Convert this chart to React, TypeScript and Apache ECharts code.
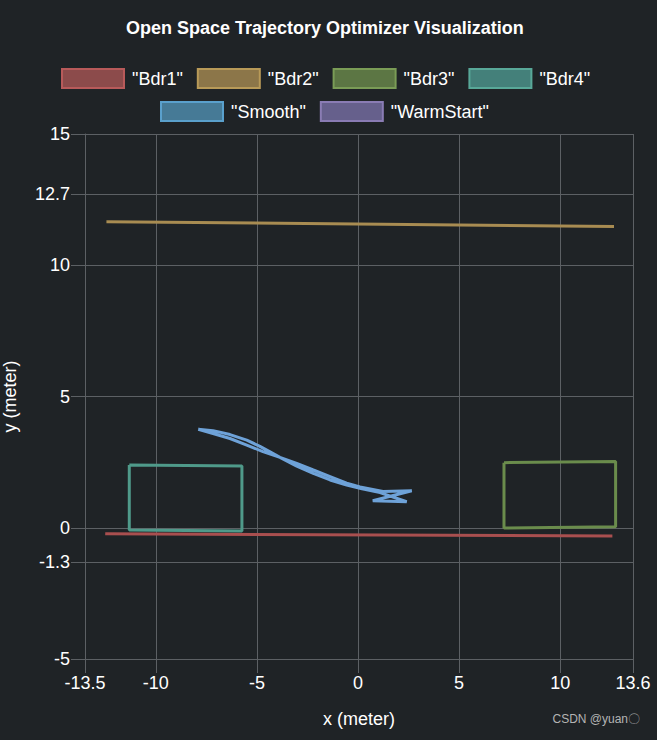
import { useEffect, useRef } from "react";
import * as echarts from "echarts";

const seriesNames = ['"Bdr1"', '"Bdr2"', '"Bdr3"', '"Bdr4"', '"Smooth"', '"WarmStart"'];
const legendRow1 = ['"Bdr1"', '"Bdr2"', '"Bdr3"', '"Bdr4"'];
const legendRow2 = ['"Smooth"', '"WarmStart"'];

const bdr1 = [[-12.5, -0.23], [12.58, -0.31]];
const bdr2 = [[-12.44, 11.66], [12.66, 11.48]];
const bdr3 = [[7.22, 2.48], [12.74, 2.52], [12.74, 0.04], [7.22, -0.01], [7.22, 2.48]];
const bdr4 = [[-11.31, 2.39], [-5.74, 2.35], [-5.74, -0.12], [-11.31, -0.09], [-11.31, 2.39]];
const smooth = [
  [-7.9, 3.75], [-7.17, 3.7], [-6.33, 3.55], [-5.5, 3.34], [-4.85, 3.1], [-4.35, 2.89],
  [-3.86, 2.68], [-3.03, 2.35], [-2.21, 2.07], [-1.38, 1.82], [-0.56, 1.63], [0.2, 1.48],
  [1.09, 1.34], [2.41, 0.99], [0.73, 1.03], [2.66, 1.41], [1.24, 1.38], [0.1, 1.55],
  [-0.56, 1.7], [-1.38, 1.95], [-2.21, 2.2], [-3.03, 2.45], [-3.86, 2.68], [-4.7, 2.9],
  [-5.5, 3.15], [-6.33, 3.4], [-7.17, 3.59], [-7.9, 3.75],
];
const warmStart: number[][] = [];

const xTicks = [-13.5, -10, -5, 0, 5, 10, 13.6];
const yTicks = [-5, -1.3, 0, 5, 10, 12.7, 15];

const lineColors = ["#a94f4f", "#a88c52", "#6a8c4c", "#4f9a8a", "#6ea2d8", "#7a6cae"];
const fillColors = ["#8c4b4b", "#8c7649", "#5c7644", "#44807a", "#467a96", "#66608c"];
const borderColors = ["#b85a5a", "#b89a58", "#7a9c56", "#58a898", "#5aa0cc", "#8a7cb4"];

const seriesData = [bdr1, bdr2, bdr3, bdr4, smooth, warmStart];

const FONT = "Arial, Liberation Sans, sans-serif";

export default function App() {
  const ref = useRef<HTMLDivElement>(null);
  useEffect(() => {
    document.body.style.margin = "0";
    const chart = echarts.init(ref.current!, null, { renderer: "svg" });
    const axisColor = "#5c6064";
    const legendBase = (names: string[], top: number, left: number) => ({
      top,
      left,
      icon: "rect",
      itemWidth: 62,
      itemHeight: 19,
      itemGap: 14,
      textStyle: { color: "#ffffff", fontSize: 18, fontFamily: FONT, padding: [0, 0, 0, 3] },
      data: names.map((n) => {
        const i = seriesNames.indexOf(n);
        return {
          name: n,
          itemStyle: { color: fillColors[i], borderColor: borderColors[i], borderWidth: 2 },
        };
      }),
    });
    chart.setOption({
      animation: false,
      backgroundColor: "#1f2326",
      title: {
        text: "Open Space Trajectory Optimizer Visualization",
        left: 121,
        top: 14,
        textStyle: { color: "#ffffff", fontSize: 18, fontWeight: "bold", fontFamily: FONT },
      },
      legend: [legendBase(legendRow1, 63, 56), legendBase(legendRow2, 96, 155)],
      grid: { left: 85, right: 24, top: 134, bottom: 81, containLabel: false, outerBoundsMode: "none" },
      xAxis: {
        type: "value",
        min: -13.5,
        max: 13.6,
        name: "x (meter)",
        nameLocation: "middle",
        nameGap: 51,
        nameTextStyle: { color: "#ffffff", fontSize: 18, fontFamily: FONT },
        axisLine: { show: true, onZero: false, lineStyle: { color: axisColor, width: 1 } },
        axisTick: { show: true, length: 14, customValues: xTicks, lineStyle: { color: axisColor } },
        axisLabel: { customValues: xTicks, margin: 15, color: "#ffffff", fontSize: 18, fontFamily: FONT },
        splitLine: { show: true, lineStyle: { color: axisColor, width: 1 } },
      },
      yAxis: {
        type: "value",
        min: -5,
        max: 15,
        name: "y (meter)",
        nameLocation: "middle",
        nameGap: 66,
        nameTextStyle: { color: "#ffffff", fontSize: 18, fontFamily: FONT },
        axisLine: { show: true, onZero: false, lineStyle: { color: axisColor, width: 1 } },
        axisTick: { show: true, length: 14, customValues: yTicks, lineStyle: { color: axisColor } },
        axisLabel: { customValues: yTicks, margin: 15, color: "#ffffff", fontSize: 18, fontFamily: FONT },
        splitLine: { show: true, lineStyle: { color: axisColor, width: 1 } },
      },
      graphic: [
        {
          type: "text",
          right: 17,
          top: 713,
          style: { text: "CSDN @yuan〇", fill: "#b4b4b4", fontSize: 12, fontFamily: FONT },
        },
      ],
      series: seriesNames.map((n, i) => ({
        name: n,
        type: "line",
        data: seriesData[i],
        showSymbol: false,
        symbol: "none",
        smooth: false,
        z: i === 4 ? 5 : 2,
        itemStyle: { color: fillColors[i] },
        lineStyle: { color: lineColors[i], width: 3 },
      })),
    });
    return () => chart.dispose();
  }, []);
  return <div ref={ref} style={{ width: 657, height: 740 }} />;
}
